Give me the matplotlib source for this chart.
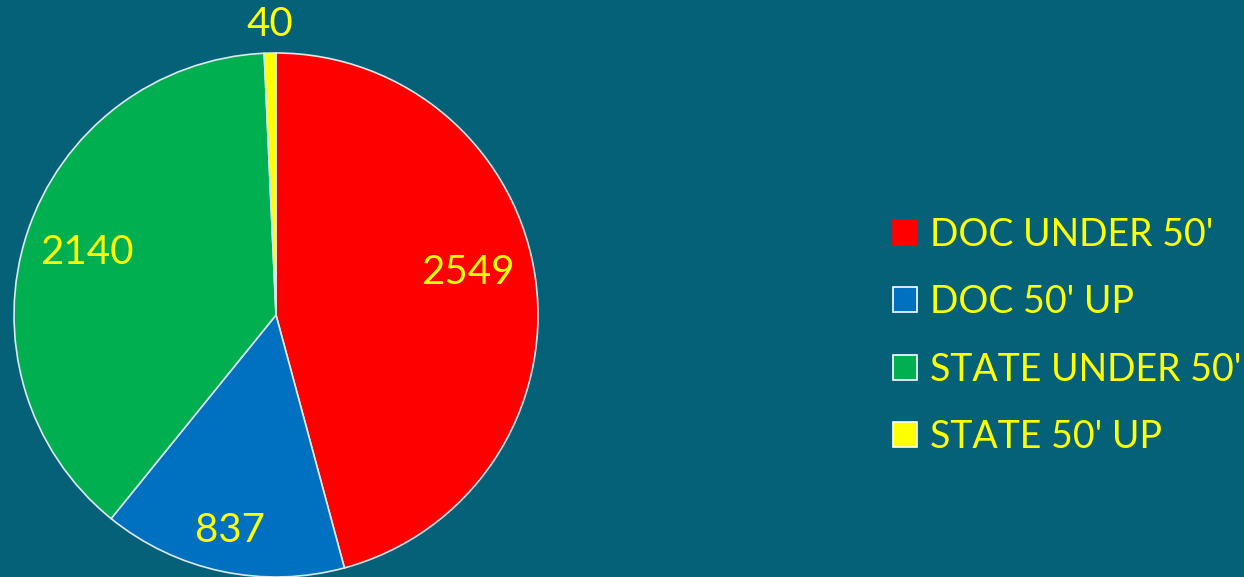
import matplotlib.pyplot as plt
import numpy as np

categories = ["DOC UNDER 50'", "DOC 50' UP", "STATE UNDER 50'", "STATE 50' UP"]
values = [2549, 837, 2140, 40]
colors = ["#FF0000", "#0070C0", "#00B050", "#FFFF00"]
label_dist = [0.75, 0.84, 0.76, 1.11]
label_shift = [5, 0, 0, 0]  # degrees

bg = "#046178"
plt.rcParams['font.family'] = ['Lato', 'DejaVu Sans']

fig = plt.figure(figsize=(12.44, 5.77), dpi=100, facecolor=bg)
ax = fig.add_axes([0, 0, 1, 1])
ax.set_facecolor(bg)

cx, cy, r = 276, 262, 262
wedges, _ = ax.pie(values, colors=colors, startangle=90, counterclock=False,
                   center=(cx, cy), radius=r, frame=True,
                   wedgeprops=dict(edgecolor='#DDE8EE', linewidth=1.2))
ax.set_xlim(0, 1244)
ax.set_ylim(0, 577)
ax.set_aspect('equal')
ax.axis('off')

for w, v, d, s in zip(wedges, values, label_dist, label_shift):
    ang = np.deg2rad((w.theta1 + w.theta2) / 2 + s)
    ax.text(cx + d * r * np.cos(ang), cy + d * r * np.sin(ang), str(v),
            ha='center', va='center', color='#FFFF00', fontsize=29)

leg = ax.legend(wedges, categories, loc='center left', bbox_to_anchor=(0.6905, 0.418),
                frameon=False, fontsize=27, labelcolor='#FFFF00',
                handlelength=0.64, handleheight=0.64, handletextpad=0.35,
                labelspacing=0.84)
for h in leg.legend_handles:
    h.set_edgecolor('white')
    h.set_linewidth(1.2)
leg.legend_handles[0].set_edgecolor('#FF0000')

fig.savefig('out.png', dpi=100, facecolor=bg)
